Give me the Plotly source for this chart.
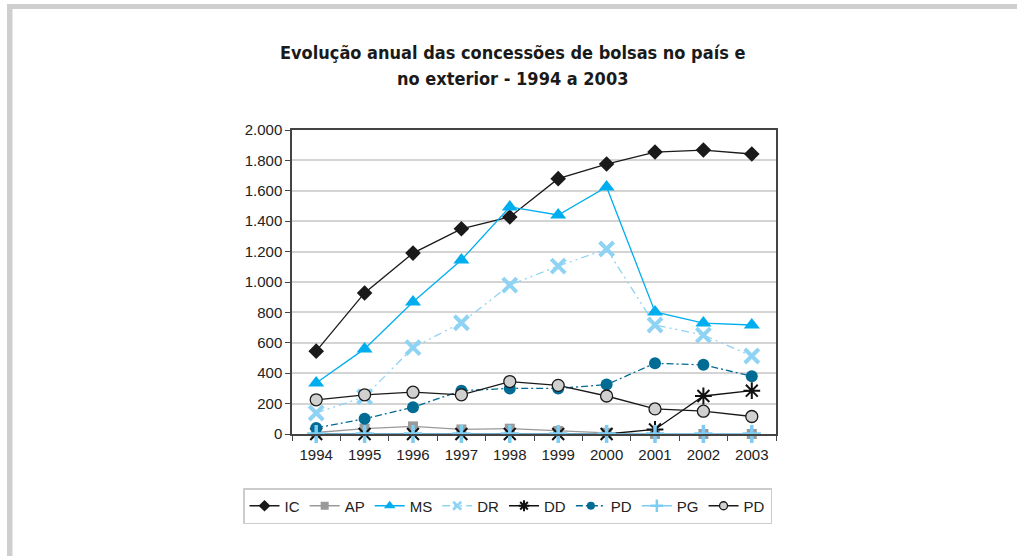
import plotly.graph_objects as go

years = ["1994", "1995", "1996", "1997", "1998", "1999", "2000", "2001", "2002", "2003"]

ic = [545, 928, 1190, 1350, 1428, 1680, 1776, 1855, 1868, 1842]
ap = [10, 35, 50, 30, 35, 20, 8, 0, 0, 0]
ms = [335, 560, 868, 1145, 1494, 1441, 1625, 803, 730, 717]
dr = [138, 245, 568, 732, 980, 1105, 1217, 717, 651, 513]
dd = [0, 0, 0, 0, 0, 0, 0, 30, 250, 285]
pd_teal = [40, 100, 176, 285, 300, 300, 325, 465, 455, 380]
pg = [0, 0, 0, 0, 0, 0, 0, 0, 0, 0]
pd_gray = [225, 258, 275, 258, 345, 320, 250, 165, 150, 115]

W, H = 1017, 556
# plot area in pixels
L, R, T, B = 292, 776, 130, 434
def px(x):
    return (x - L) / (R - L)
def py(y):
    return (B - y) / (B - T)

fig = go.Figure()

def add(name, y, color, dash, symbol, size, lsize, mcolor=None, mline=None, lw=1.3):
    mline = mline or dict(width=0)
    fig.add_trace(go.Scatter(
        x=years, y=y, name=name, mode="lines+markers", showlegend=False,
        cliponaxis=False,
        line=dict(color=color, width=lw, dash=dash),
        marker=dict(symbol=symbol, size=size, color=mcolor or color, line=mline),
    ))
    # legend entry with smaller marker
    fig.add_trace(go.Scatter(
        x=[None], y=[None], name=name, mode="lines+markers",
        line=dict(color=color, width=lw + 0.4, dash=dash),
        marker=dict(symbol=symbol, size=lsize, color=mcolor or color,
                    line=dict(width=min(mline.get("width", 0), 2.5),
                              color=mline.get("color", color))),
    ))

add("IC", ic, "#1a1a1a", "solid", "diamond", 12, 9)
add("AP", ap, "#9a9a9a", "solid", "square", 10, 8)
add("MS", ms, "#00aeef", "solid", "triangle-up", 14, 10)
add("DR", dr, "#8fd3f4", "8px,4px,2px,4px,2px,4px", "x-thin", 14, 8,
    mline=dict(width=4, color="#8fd3f4"))
add("DD", dd, "#111111", "solid", "asterisk", 14, 9,
    mline=dict(width=2, color="#111111"))
add("PD", pd_teal, "#006b93", "7px,3px,2px,3px", "circle", 12, 8)
add("PG", pg, "#7dcdf3", "solid", "cross-thin", 13, 9,
    mline=dict(width=3.5, color="#7dcdf3"))
add("PD", pd_gray, "#1a1a1a", "solid", "circle", 12, 8, mcolor="#d0d0d0",
    mline=dict(width=1.3, color="#1a1a1a"))

for txt, yy in [("<b>Evolução anual das concessões de bolsas no país e</b>", 52),
                ("<b>no exterior - 1994 a 2003</b>", 78)]:
    fig.add_annotation(text=txt, x=px(512), y=py(yy), xref="paper", yref="paper",
                       xanchor="center", yanchor="middle", showarrow=False,
                       font=dict(family="DejaVu Sans Condensed", size=18, color="#1a1a1a"))

# page frame bands
fig.add_shape(type="rect", xref="paper", yref="paper", x0=px(7), x1=px(1017),
              y0=py(9), y1=py(4), fillcolor="#cfcfcf", line=dict(width=0), layer="below")
fig.add_shape(type="rect", xref="paper", yref="paper", x0=px(7), x1=px(12.5),
              y0=py(556), y1=py(4), fillcolor="#cfcfcf", line=dict(width=0), layer="below")

fig.update_layout(
    width=W, height=H,
    margin=dict(l=L, r=W - R, t=T, b=H - B, autoexpand=False),
    paper_bgcolor="white", plot_bgcolor="white",
    separators=",.",
    font=dict(family="Liberation Sans", size=15, color="#222222"),
    showlegend=True,
    legend=dict(orientation="h", x=px(243), xanchor="left",
                y=py(488), yanchor="top",
                bordercolor="#cccccc", borderwidth=1.5, font=dict(size=15),
                itemwidth=30, traceorder="normal"),
)
fig.update_xaxes(type="category", range=[-0.5, 9.5], showline=True, linecolor="#444444",
                 linewidth=1.5, mirror=True, ticks="outside", tickson="boundaries",
                 ticklen=5, tickcolor="#444444", showgrid=False, tickangle=0,
                 ticklabelstandoff=6, tickfont=dict(size=15))
fig.update_yaxes(range=[0, 2000], dtick=200, tickformat=",d", showline=True,
                 linecolor="#444444", linewidth=1.5, mirror=True, ticks="outside",
                 ticklen=5, tickcolor="#444444", showgrid=True, gridcolor="#d4d4d4",
                 gridwidth=1.5, zeroline=False, tickfont=dict(size=15))

fig.write_html("out.html", config={"displayModeBar": False},
               post_script="document.body.style.margin='0px';")
